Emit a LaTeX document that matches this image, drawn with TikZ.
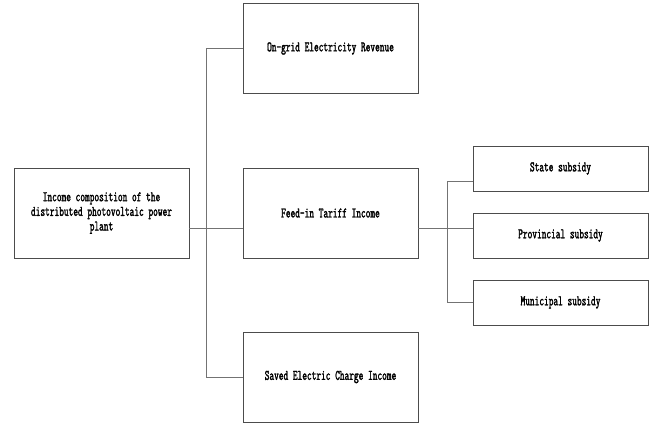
\documentclass[tikz,border=0pt]{standalone}
\usepackage{fontspec}
\newfontfamily\boxfont[FakeStretch=0.61,FakeBold=1.5]{Latin Modern Mono}
\begin{document}
\begin{tikzpicture}[
        x=0.75pt, y=-0.75pt,
        box/.style={draw=black!70, line width=0.65pt, inner sep=0pt,
          minimum width=131.25pt, align=center, font=\boxfont\fontsize{11}{11}\selectfont},
        bigbox/.style={box, minimum height=67.5pt},
        smallbox/.style={box, minimum height=33.75pt},
        link/.style={draw=black!55, line width=0.75pt}
      ]

% Frame
        \useasboundingbox (0,0) rectangle (656,424);

% Boxes
        \node[bigbox] (root) at (101.5,213)
          {Income composition of the\\distributed photovoltaic power\\plant};
        \node[bigbox] (ongrid) at (330.5,48.5) {On-grid Electricity Revenue};
        \node[bigbox] (feedin) at (330.5,213) {Feed-in Tariff Income};
        \node[bigbox] (saved) at (330.5,377) {Saved Electric Charge Income};
        \node[smallbox] (state) at (560.5,168.5) {State subsidy};
        \node[smallbox] (prov) at (560.5,235.5) {Provincial subsidy};
        \node[smallbox] (muni) at (560.5,302.5) {Municipal subsidy};

% Joints
        \coordinate (busa) at (206,0);
        \coordinate (busb) at (447,0);
        \coordinate (rootout) at ([yshift=-11.25pt]root.east);
        \coordinate (feedinin) at ([yshift=-11.25pt]feedin.west);
        \coordinate (feedinout) at ([yshift=-11.25pt]feedin.east);
        \coordinate (statein) at ([yshift=-9.4pt]state.west);
        \coordinate (provin) at ([yshift=5.6pt]prov.west);

% Left tree
        \draw[link] (rootout) -- (feedinin);
        \draw[link] (ongrid.west) -| (busa |- saved.west) -- (saved.west);

% Right tree
        \draw[link] (feedinout) -- (busb |- feedinout);
        \draw[link] (statein) -| (busb |- muni.west) -- (muni.west);
        \draw[link] (provin) -- (busb |- provin);

      \end{tikzpicture}
\end{document}
